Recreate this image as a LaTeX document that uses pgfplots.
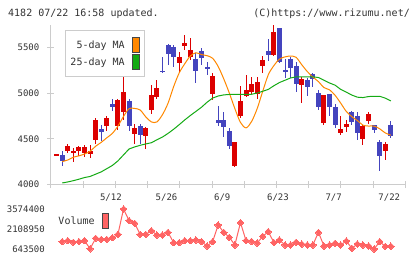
\documentclass[border=0pt]{standalone}
\usepackage{fontspec}
\setmainfont{DejaVu Sans Mono}
\usepackage{pgfplots}
\pgfplotsset{compat=1.18}
\usepackage{pgfplotstable}
\definecolor{axgray}{RGB}{204,204,204}
\definecolor{txt}{RGB}{51,51,51}
\definecolor{cred}{RGB}{220,0,0}
\definecolor{cblue}{RGB}{68,68,190}
\definecolor{corange}{RGB}{255,136,0}
\definecolor{cgreen}{RGB}{20,170,20}
\definecolor{cvol}{RGB}{255,100,100}
\definecolor{boxgray}{RGB}{70,70,70}

\pgfplotstableread{
i O H L C
0 4320 4332 4320 4332
2 4365 4446 4343 4417
3 4354 4405 4245 4366
4 4373 4424 4315 4409
5 4343 4435 4307 4409
6 4337 4435 4293 4373
7 4483 4732 4446 4702
9 4636 4746 4585 4732
11 4636 4940 4592 4921
12 4793 5243 4702 5013
14 4556 4658 4446 4622
16 4527 4629 4392 4614
17 4811 5086 4775 4976
18 4958 5148 4940 5060
22 5331 5451 5221 5397
23 5518 5635 5470 5551
24 5397 5598 5360 5470
28 4995 5221 4921 5185
32 4209 4461 4190 4461
33 4746 5075 4732 4910
34 4965 5196 4958 5038
35 5013 5177 4995 5097
36 4987 5177 4940 5122
37 5294 5404 5221 5360
39 5415 5745 5410 5671
44 5093 5177 4892 5152
48 4673 4976 4647 4976
51 4563 4746 4537 4611
52 4629 4709 4574 4658
55 4497 4647 4428 4636
56 4695 4793 4666 4768
59 4365 4464 4274 4446
}\redtab

\pgfplotstableread{
i O H L C
1 4329 4365 4201 4256
8 4607 4647 4472 4578
10 4878 4940 4801 4848
13 4914 4940 4585 4636
15 4636 4666 4439 4537
19 5246 5390 5215 5234
20 5525 5536 5306 5426
21 5500 5525 5280 5397
25 5368 5440 5111 5243
26 5462 5489 5306 5379
27 5282 5342 5196 5270
29 4702 4856 4636 4673
30 4702 4793 4519 4629
31 4581 4622 4392 4417
38 5459 5587 5353 5415
40 5705 5705 5330 5342
41 5247 5368 5160 5236
42 5371 5397 5160 5269
43 5294 5342 5013 5097
45 5141 5160 4969 5068
46 5203 5214 5068 5152
47 5002 5031 4812 4848
49 4987 4990 4746 4848
50 4848 4885 4618 4647
53 4793 4800 4655 4684
54 4746 4793 4483 4563
57 4647 4650 4563 4592
58 4464 4483 4154 4318
60 4647 4691 4512 4527
}\bluetab

\pgfplotstableread{
i v
1 4252
2 4270
3 4300
4 4315
5 4335
6 4365
7 4420
8 4462
9 4512
10 4560
11 4640
12 4745
13 4830
14 4832
15 4815
16 4740
17 4685
18 4685
19 4765
20 4890
21 5070
22 5220
23 5320
24 5405
25 5440
26 5420
27 5408
28 5380
29 5290
30 5155
31 5000
32 4830
33 4680
34 4620
35 4690
36 4830
37 5020
38 5200
39 5300
40 5370
41 5395
42 5404
43 5390
44 5310
45 5235
46 5175
47 5125
48 5060
49 5035
50 4975
51 4890
52 4800
53 4742
54 4700
55 4650
56 4640
57 4640
58 4610
59 4565
60 4540
}\mafive

\pgfplotstableread{
i v
1 4019
2 4030
3 4044
4 4060
5 4078
6 4090
7 4115
8 4140
9 4175
10 4210
11 4260
12 4325
13 4390
14 4412
15 4430
16 4445
17 4458
18 4490
19 4520
20 4560
21 4605
22 4655
23 4707
24 4755
25 4800
26 4845
27 4900
28 4945
29 4968
30 4980
31 4985
32 4987
33 4987
34 4987
35 4987
36 5000
37 5020
38 5040
39 5080
40 5115
41 5140
42 5165
43 5177
44 5177
45 5177
46 5177
47 5170
48 5140
49 5110
50 5086
51 5040
52 5010
53 4978
54 4955
55 4951
56 4962
57 4965
58 4965
59 4945
60 4914
}\matwentyfive

\pgfplotstableread{
i v
1 1181000
2 1254000
3 1132000
4 1181000
5 1254000
6 660000
7 1425000
8 1352000
9 1352000
10 1474000
11 1718000
12 3574400
13 2719000
14 2524000
15 1718000
16 1718000
17 1987000
18 1669000
19 1669000
20 1865000
21 1107000
22 1107000
23 1254000
24 1254000
25 1303000
26 1181000
27 863000
28 1181000
29 2402000
30 1865000
31 1498000
32 937000
33 2580000
34 1260000
35 1200000
36 1080000
37 1570000
38 1913000
39 1120000
40 1303000
41 937000
42 937000
43 1132000
44 1000000
45 937000
46 937000
47 1865000
48 863000
49 937000
50 1059000
51 937000
52 1230000
53 692000
54 1010000
55 937000
56 863000
57 643500
58 1181000
59 830000
60 850000
}\voltab

\begin{document}
\begin{tikzpicture}
\path[use as bounding box] (0pt,0pt) rectangle (420pt,259pt);
\node[anchor=base west, font=\fontsize{10}{12}\selectfont, text=txt, inner sep=0pt] at (8pt,242.7pt) {4182 07/22 16:58 updated.};
\node[anchor=base east, font=\fontsize{10}{12}\selectfont, text=txt, inner sep=0pt] at (410pt,242.7pt) {(C)https://www.rizumu.net/};

\begin{axis}[
  at={(51pt,74.3pt)}, anchor=south west,
  width=354.3pt, height=159.7pt, scale only axis,
  xmin=-1.02, xmax=62.6, ymin=4000, ymax=5743,
  clip=false,
  axis x line=bottom, axis y line=left,
  axis line style={draw=axgray, line width=1pt, -},
  tick style={draw=axgray, line width=1pt},
  tick align=center, major tick length=7pt,
  xtick={-1.02,4.76,10.55,16.33,22.11,27.90,33.68,39.47,45.25,51.03,56.82,62.6},
  xticklabels={},
  extra x ticks={9.73,19.73,29.73,39.73,49.73,59.73},
  extra x tick labels={5/12,5/26,6/9,6/23,7/7,7/22},
  extra x tick style={major tick length=0pt, tick style={draw=none},
     xticklabel style={font=\fontsize{9}{10}\selectfont, text=txt, inner sep=0pt, anchor=center, yshift=-12.6pt}},
  ytick={4000,4500,5000,5500},
  yticklabels={4000,4500,5000,5500},
  yticklabel style={font=\fontsize{9}{10}\selectfont, text=txt, inner sep=0pt, anchor=east, xshift=-8pt},
  legend style={at={(0.0395,0.9687)}, anchor=north west, draw=axgray, line width=1pt, fill=white,
     inner xsep=5pt, inner ysep=6.5pt, row sep=1pt, font=\fontsize{10}{12}\selectfont, text=txt,
     nodes={inner sep=0pt}, /tikz/every odd column/.append style={column sep=7.7pt}},
  legend cell align=right, legend plot pos=right,
]
% red wicks and bodies
\addplot[forget plot, draw=none, no marks, error bars/.cd, y dir=both, y explicit, error mark=none,
  error bar style={draw=cred, line width=1pt}]
  table[x=i, y expr={(\thisrow{H}+\thisrow{L})/2}, y error expr={(\thisrow{H}-\thisrow{L})/2}] {\redtab};
\addplot[forget plot, draw=none, no marks, error bars/.cd, y dir=both, y explicit, error mark=none,
  error bar style={draw=cred, line width=5pt}]
  table[x=i, y expr={(\thisrow{O}+\thisrow{C})/2}, y error expr={abs(\thisrow{C}-\thisrow{O})/2}] {\redtab};
% blue wicks and bodies
\addplot[forget plot, draw=none, no marks, error bars/.cd, y dir=both, y explicit, error mark=none,
  error bar style={draw=cblue, line width=1pt}]
  table[x=i, y expr={(\thisrow{H}+\thisrow{L})/2}, y error expr={(\thisrow{H}-\thisrow{L})/2}] {\bluetab};
\addplot[forget plot, draw=none, no marks, error bars/.cd, y dir=both, y explicit, error mark=none,
  error bar style={draw=cblue, line width=5pt}]
  table[x=i, y expr={(\thisrow{O}+\thisrow{C})/2}, y error expr={abs(\thisrow{C}-\thisrow{O})/2}] {\bluetab};
% moving averages
\addplot[draw=corange, line width=1pt, smooth, mark=none,
  legend image code/.code={\draw[draw=boxgray, fill=corange, line width=1pt] (0pt,-7.5pt) rectangle (6.5pt,7.5pt);}]
  table[x=i, y=v] {\mafive};
\addlegendentry{5-day MA}
\addplot[draw=cgreen, line width=1pt, mark=none,
  legend image code/.code={\draw[draw=boxgray, fill=cgreen, line width=1pt] (0pt,-7.5pt) rectangle (6.5pt,7.5pt);}]
  table[x=i, y=v] {\matwentyfive};
\addlegendentry{25-day MA}
\end{axis}

\begin{axis}[
  at={(51pt,10pt)}, anchor=south west,
  width=354.3pt, height=40pt, scale only axis,
  xmin=-1.02, xmax=62.6, ymin=643500, ymax=3574400,
  clip=false, scaled y ticks=false,
  axis line style={draw=none},
  tick style={draw=none}, major tick length=0pt,
  xtick=\empty,
  ytick={643500,2108950,3574400},
  yticklabels={643500,2108950,3574400},
  yticklabel style={font=\fontsize{9}{10}\selectfont, text=txt, inner sep=0pt, anchor=east, xshift=-6pt},
  legend style={at={(0.0206,0.8925)}, anchor=north west, draw=none, fill=none, inner sep=0pt,
     font=\fontsize{10}{12}\selectfont, text=txt,
     nodes={inner sep=0pt}, /tikz/every odd column/.append style={column sep=7pt}},
  legend cell align=right, legend plot pos=right,
]
\addplot[draw=cvol, line width=1pt, mark=square*, mark size=2.3pt,
  mark options={rotate=45, fill=cvol, draw=cvol, line width=0pt},
  legend image code/.code={\draw[draw=boxgray, fill=cvol, line width=1pt] (0pt,-7.5pt) rectangle (6.3pt,7.5pt);}]
  table[x=i, y=v] {\voltab};
\addlegendentry{Volume}
\end{axis}
\end{tikzpicture}
\end{document}
